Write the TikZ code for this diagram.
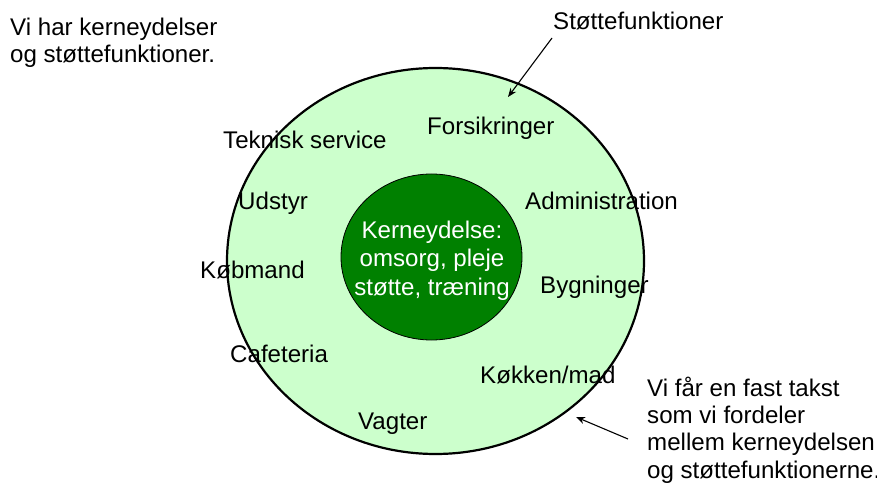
\documentclass[tikz,border=0pt]{standalone}
\usepackage{fontspec}
\setmainfont{Liberation Sans}
\usetikzlibrary{shapes.geometric,arrows.meta}
\definecolor{lightgreen}{HTML}{CCFFCC}
\definecolor{darkgreen}{HTML}{008000}
\begin{document}
\begin{tikzpicture}[x=1pt,y=-1pt,
  lbl/.style={anchor=base west,inner sep=0pt,font=\fontsize{24.1}{27.5}\selectfont},
  ptr/.style={draw=black,line width=1.1pt,-{Stealth[length=9pt,width=7pt]}}]
\useasboundingbox (0,0) rectangle (877,486);
\node[ellipse,draw=black,line width=2.2pt,fill=lightgreen,minimum width=417pt,minimum height=386pt,inner sep=0pt] (outer) at (435.5,261) {};
\node[ellipse,draw=black,line width=0.8pt,fill=darkgreen,minimum width=181pt,minimum height=166pt,inner sep=0pt] (inner) at (431.5,257) {};
\node[anchor=base,inner sep=0pt,align=center,text=white,font=\fontsize{24.1}{28.5}\selectfont] (core) at (432,295) {Kerneydelse:\\omsorg, pleje\\støtte, træning};
\node[lbl] (tek) at (223,149) {Teknisk service};
\node[lbl] (fors) at (427,135) {Forsikringer};
\node[lbl] (udst) at (238,210) {Udstyr};
\node[lbl] (adm) at (525,210) {Administration};
\node[lbl] (kob) at (200,278) {Købmand};
\node[lbl] (byg) at (540,293) {Bygninger};
\node[lbl] (caf) at (230,362) {Cafeteria};
\node[lbl] (kok) at (480,383) {Køkken/mad};
\node[lbl] (vag) at (358,429) {Vagter};
\node[lbl,align=left] (top) at (10,63) {Vi har kerneydelser\\og støttefunktioner.};
\node[lbl] (stf) at (553,30) {Støttefunktioner};
\node[lbl,align=left,font=\fontsize{24.1}{27.2}\selectfont] (fast) at (647,478) {Vi får en fast takst\\som vi fordeler\\mellem kerneydelsen\\og støttefunktionerne.};
\coordinate (a1s) at (552,38);
\coordinate (a1e) at (508,97);
\coordinate (a2s) at (628,439);
\coordinate (a2e) at (576,417);
\draw[ptr] (a1s) -- (a1e);
\draw[ptr] (a2s) -- (a2e);
\end{tikzpicture}
\end{document}
